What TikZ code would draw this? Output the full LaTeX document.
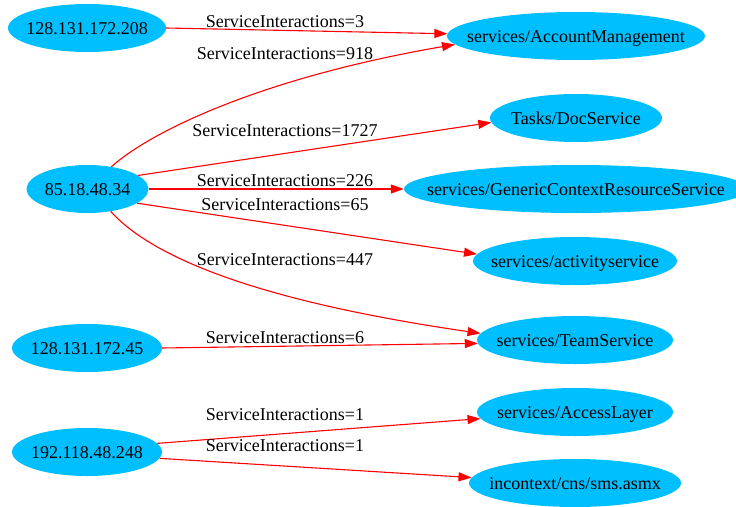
\documentclass[tikz,border=0pt]{standalone}
\usepackage{fontspec}
\setmainfont{Liberation Serif}
\usetikzlibrary{shapes.geometric,arrows.meta}
\definecolor{skyfill}{RGB}{0,191,255}
\newcommand{\ctext}[1]{\makebox[0pt]{#1}}
\tikzset{
  host/.style={ellipse, fill=skyfill, inner sep=0pt, minimum height=48pt,
    text height=12pt, text depth=0pt, font=\fontsize{18}{21}\selectfont},
  edgelbl/.style={anchor=base, inner sep=0pt, font=\fontsize{18}{21}\selectfont},
  conn/.style={red, line width=1.1pt, -{Triangle[length=13pt,width=9pt]}}
}
\begin{document}
\begin{tikzpicture}[x=1pt, y=-1pt]
            \useasboundingbox (0,0) rectangle (736,506);
            \node[host, minimum width=158pt] (h208) at (87,28) {\ctext{128.131.172.208}};
            \node[host, minimum width=122pt] (h34) at (87.5,189) {\ctext{85.18.48.34}};
            \node[host, minimum width=150pt] (h45) at (87,348) {\ctext{128.131.172.45}};
            \node[host, minimum width=150pt] (h248) at (87,452) {\ctext{192.118.48.248}};
            \node[host, minimum width=258pt] (am) at (576,36) {\ctext{services/AccountManagement}};
            \node[host, minimum width=172pt] (doc) at (576,118) {\ctext{Tasks/DocService}};
            \node[host, minimum width=344pt] (gcr) at (576,189) {\ctext{services/GenericContextResourceService}};
            \node[host, minimum width=204pt] (act) at (575,261) {\ctext{services/activityservice}};
            \node[host, minimum width=196pt] (team) at (575,340) {\ctext{services/TeamService}};
            \node[host, minimum width=196pt] (acl) at (575,412) {\ctext{services/AccessLayer}};
            \node[host, minimum width=212pt] (sms) at (575,483) {\ctext{incontext/cns/sms.asmx}};
            \draw[conn] (h208.east) -- (am.179);
            \draw[conn] (h34.43) .. controls (150,132) and (260,78) .. (am.184);
            \draw[conn] (h34.15) -- (doc.183);
            \draw[conn] (h34.east) -- (gcr.west);
            \draw[conn] (h34.-16) -- (act.176);
            \draw[conn] (h34.-44) .. controls (150,255) and (250,300) .. (team.176);
            \draw[conn] (h45.east) -- (team.182);
            \draw[conn] (h248.7) -- (acl.184);
            \draw[conn] (h248.-5) -- (sms.177);
            \node[edgelbl] (l3) at (285,27.7) {ServiceInteractions=3};
            \node[edgelbl] (l918) at (285,59.3) {ServiceInteractions=918};
            \node[edgelbl] (l1727) at (285,136.7) {ServiceInteractions=1727};
            \node[edgelbl] (l226) at (285,186) {ServiceInteractions=226};
            \node[edgelbl] (l65) at (285,210) {ServiceInteractions=65};
            \node[edgelbl] (l447) at (285,265) {ServiceInteractions=447};
            \node[edgelbl] (l6) at (285,343.3) {ServiceInteractions=6};
            \node[edgelbl] (l1a) at (285,420) {ServiceInteractions=1};
            \node[edgelbl] (l1b) at (285,451.7) {ServiceInteractions=1};
        \end{tikzpicture}
\end{document}
